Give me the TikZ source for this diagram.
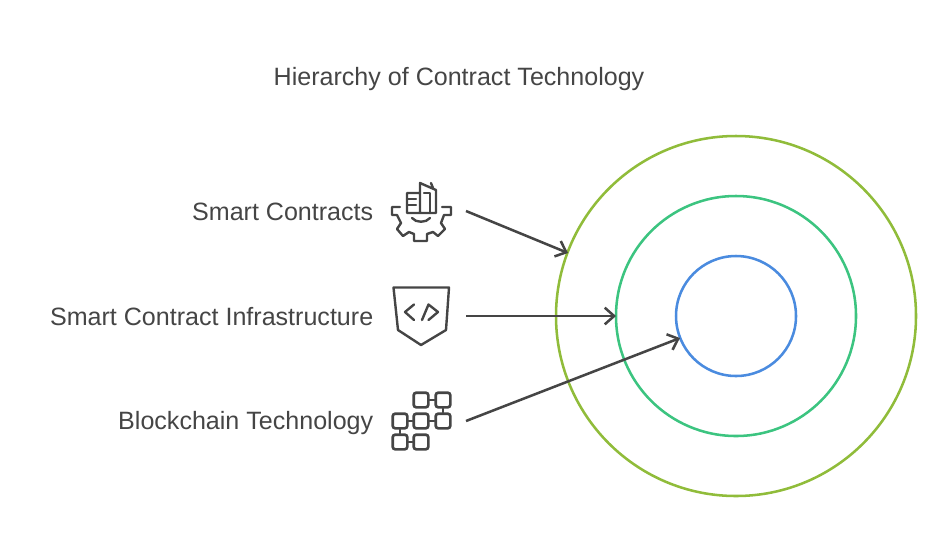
\documentclass[tikz,border=0pt]{standalone}
\usepackage{fontspec}
\setmainfont{Liberation Sans}
\usepackage{tikz}
\usetikzlibrary{arrows.meta}
\definecolor{ink}{HTML}{454545}
\definecolor{ringa}{HTML}{90BC3A}
\definecolor{ringb}{HTML}{3CC480}
\definecolor{ringc}{HTML}{4A8BDF}
\tikzset{l/.style={font=\fontsize{18.8}{18.8}\selectfont, text=ink, inner sep=0pt}}
\tikzset{ring/.style={draw, circle, line width=1.9pt, inner sep=0pt, minimum size=#1*.75pt}}
\tikzset{pointer/.style={draw=ink, line width=1.9pt, -{Straight Barb[length=7pt,width=12.5pt,line width=1.9pt]}}}
\tikzset{glyph/.style={draw=ink, line width=1.8pt, line join=round, line cap=round}}
\tikzset{blk/.style={draw=ink, line width=2pt, rounded corners=2pt, minimum size=11pt, inner sep=0pt}}
\begin{document}
\begin{tikzpicture}[x=.75pt,y=-.75pt]
    \useasboundingbox (0,0) rectangle (948,558);
    \node[l] (title) at (459,79) {Hierarchy of Contract Technology};
    % rings
    \node[ring=360, ringa] (outer) at (736,316) {};
    \node[ring=240, ringb] (middle) at (736,316) {};
    \node[ring=120, ringc] (inner) at (736,316) {};
    % labels
    \node[l, anchor=east] (smart) at (373.5,212) {Smart Contracts};
    \node[l, anchor=east] (infra) at (373.5,317) {Smart Contract Infrastructure};
    \node[l, anchor=east] (chain) at (373.5,423) {Blockchain Technology};
    % arrows
    \coordinate (A) at (466,211);
    \coordinate (B) at (466,316);
    \coordinate (C) at (466,421);
    \coordinate (D) at (568,253);
    \coordinate (E) at (616,316);
    \coordinate (F) at (680,338);
    \draw[pointer] (A) -- (D);
    \draw[pointer] (B) -- (E);
    \draw[pointer] (C) -- (F);
    % gear icon
    \draw[glyph] (400,207) -- (392,207) -- (392,215) -- (397,215) -- (401,223) -- (397,229) -- (403,236) -- (409,232) -- (414,234) -- (414,241) -- (427,241) -- (427,234) -- (433,232) -- (438,236) -- (445,229) -- (441,223) -- (444,215) -- (451,215) -- (451,207) -- (442,207);
    \draw[glyph] (412,218) .. controls (416,223) and (426,223) .. (430,218);
    \draw[glyph] (420,193) -- (407,193) -- (407,213) -- (436,213) -- (436,190) -- (420,183) -- (420,213);
    \draw[glyph] (407,199) -- (416,199);
    \draw[glyph] (407,205) -- (416,205);
    \draw[glyph] (424,193) -- (430,193) -- (430,213);
    \draw[glyph] (431,183) -- (433,188);
    % shield icon
    \draw[glyph] (393.5,287.5) -- (449,287.5) -- (446,330) -- (421,345) -- (398,330) -- cycle;
    \draw[glyph] (414,304.5) -- (405,312) -- (414,320);
    \draw[glyph] (422,320) -- (428.5,304.5) -- (438,312) -- (428.5,320);
    % block icon
    \node[blk] (ba) at (421,400) {};
    \node[blk] (bb) at (443,400) {};
    \node[blk] (bc) at (400,421) {};
    \node[blk] (bd) at (421,421) {};
    \node[blk] (be) at (443,421) {};
    \node[blk] (bf) at (400,442) {};
    \node[blk] (bg) at (421,442) {};
    \draw[glyph] (ba) -- (bb);
    \draw[glyph] (bb) -- (be);
    \draw[glyph] (bc) -- (bd);
    \draw[glyph] (bd) -- (be);
    \draw[glyph] (bc) -- (bf);
    \draw[glyph] (bf) -- (bg);
\end{tikzpicture}
\end{document}
